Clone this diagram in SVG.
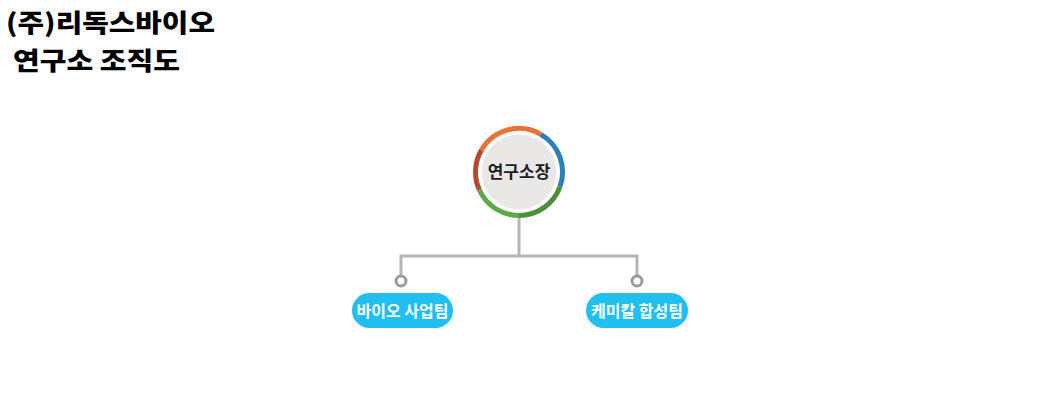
<svg xmlns="http://www.w3.org/2000/svg" width="1041" height="419" viewBox="0 0 1041 419">
<style>
.title{font-family:"Noto Sans CJK KR","Noto Sans",sans-serif;font-weight:900;font-size:25px;fill:#000;}
.head{font-family:"Noto Sans CJK KR","Noto Sans",sans-serif;font-weight:700;font-size:17px;fill:#222;}
.pilltxt{font-family:"Noto Sans CJK KR","Noto Sans",sans-serif;font-weight:700;font-size:16px;fill:#fff;}
.pill{fill:#20bff0;}
.conn{fill:none;stroke:#b5b5b5;stroke-width:3;}
.dot{fill:#fff;stroke:#9a9a9a;stroke-width:3;}
.arc{fill:none;stroke-width:5;}
</style>
<rect width="1041" height="419" fill="#fff"/>
<g id="title">
<text class="title" x="6" y="32" textLength="209" lengthAdjust="spacingAndGlyphs">(주)리독스바이오</text>
<text class="title" x="13" y="69.5" textLength="167" lengthAdjust="spacingAndGlyphs">연구소 조직도</text>
</g>
<g id="connectors">
<path class="conn" d="M519 218 V256 M401 256 H637 M401 254.5 V276 M637 254.5 V276"/>
<circle class="dot" cx="401" cy="281" r="5"/>
<circle class="dot" cx="637" cy="281" r="5"/>
</g>
<g id="director">
<circle cx="519" cy="172" r="46" fill="#fff"/>
<path class="arc" stroke="#e8733a" d="M481.3 150.3 A43.5 43.5 0 0 1 540.8 134.3"/>
<path class="arc" stroke="#2b80bb" d="M540.8 134.3 A43.5 43.5 0 0 1 559.9 186.9"/>
<path class="arc" stroke="#4d8f3b" d="M559.9 186.9 A43.5 43.5 0 0 1 519 215.5"/>
<path class="arc" stroke="#5cab48" d="M519 215.5 A43.5 43.5 0 0 1 479.3 189.8"/>
<path class="arc" stroke="#b24a2e" d="M479.3 189.8 A43.5 43.5 0 0 1 481.3 150.3"/>
<circle cx="519" cy="172" r="37.5" fill="#e9e8e6"/>
<text class="head" x="519" y="178" text-anchor="middle">연구소장</text>
</g>
<g id="bio">
<rect class="pill" x="352" y="293" width="101" height="35" rx="17.5"/>
<text class="pilltxt" x="402.5" y="316.5" text-anchor="middle">바이오 사업팀</text>
</g>
<g id="chem">
<rect class="pill" x="586" y="293" width="102" height="35" rx="17.5"/>
<text class="pilltxt" x="637" y="316.5" text-anchor="middle">케미칼 합성팀</text>
</g>
</svg>
